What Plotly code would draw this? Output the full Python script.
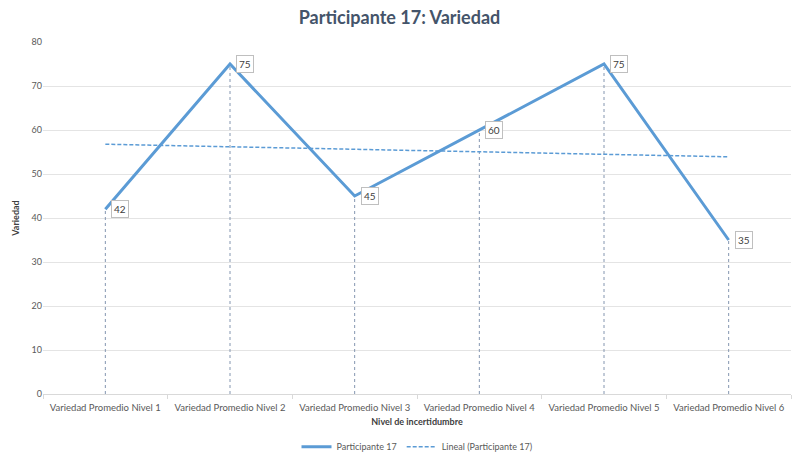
import numpy as np
import plotly.graph_objects as go

categories = [
    "Variedad Promedio Nivel 1",
    "Variedad Promedio Nivel 2",
    "Variedad Promedio Nivel 3",
    "Variedad Promedio Nivel 4",
    "Variedad Promedio Nivel 5",
    "Variedad Promedio Nivel 6",
]
values = [42, 75, 45, 60, 75, 35]

# linear trend (as Excel "Lineal")
idx = np.arange(1, len(values) + 1)
slope, intercept = np.polyfit(idx, values, 1)
trend = slope * idx + intercept

font = "Lato, Open Sans, sans-serif"
blue = "#5B9BD5"

fig = go.Figure()

# drop lines from each point down to the axis
drop_x, drop_y = [], []
for c, v in zip(categories, values):
    drop_x += [c, c, None]
    drop_y += [0, v, None]

fig.add_trace(
    go.Scatter(
        x=drop_x,
        y=drop_y,
        mode="lines",
        line=dict(color="#8496B0", width=1, dash="3px,3px"),
        showlegend=False,
        hoverinfo="skip",
    )
)

fig.add_trace(
    go.Scatter(
        x=categories,
        y=values,
        mode="lines",
        name="Participante 17",
        line=dict(color=blue, width=3),
    )
)

fig.add_trace(
    go.Scatter(
        x=categories,
        y=trend,
        mode="lines",
        name="Lineal (Participante 17)",
        line=dict(color=blue, width=1.5, dash="4px,2px"),
    )
)

for c, v in zip(categories, values):
    fig.add_annotation(
        x=c,
        y=v,
        text=str(v),
        showarrow=False,
        xanchor="left",
        yanchor="middle",
        xshift=6,
        yshift=0,
        bgcolor="white",
        bordercolor="#BFBFBF",
        borderwidth=1,
        borderpad=2,
        font=dict(family=font, size=10, color="#404040"),
    )

fig.update_layout(
    width=799,
    height=465,
    paper_bgcolor="white",
    plot_bgcolor="white",
    margin=dict(l=43, r=8, t=42, b=71, autoexpand=False),
    title=dict(
        text="<b>Participante 17: Variedad</b>",
        x=0.5,
        xanchor="center",
        y=1 - 18 / 465,
        yanchor="middle",
        font=dict(family=font, size=18, color="#44546A"),
    ),
    font=dict(family=font, size=9, color="#595959"),
    legend=dict(
        orientation="h",
        x=0.5,
        xanchor="center",
        y=-0.15,
        yanchor="middle",
        font=dict(size=9, color="#595959"),
    ),
    xaxis=dict(
        range=[-0.5, len(categories) - 0.5],
        showgrid=False,
        showline=True,
        linecolor="#D9D9D9",
        ticks="outside",
        tickson="boundaries",
        ticklen=4,
        tickcolor="#D9D9D9",
        tickangle=0,
        ticklabelstandoff=5,
        tickfont=dict(size=9.5, color="#595959"),
        automargin=False,
        title=dict(
            text="<b>Nivel de incertidumbre</b>",
            font=dict(size=9, color="#404040"),
            standoff=6,
        ),
    ),
    yaxis=dict(
        range=[0, 80],
        dtick=10,
        showgrid=True,
        gridcolor="#E4E4E4",
        zeroline=False,
        showline=False,
        automargin=False,
        tickfont=dict(size=9, color="#595959"),
        title=dict(
            text="<b>Variedad</b>",
            font=dict(size=9, color="#404040"),
            standoff=10,
        ),
    ),
)

fig.write_html(
    "out.html",
    config={"displayModeBar": False},
    post_script="document.body.style.margin='0';",
)
